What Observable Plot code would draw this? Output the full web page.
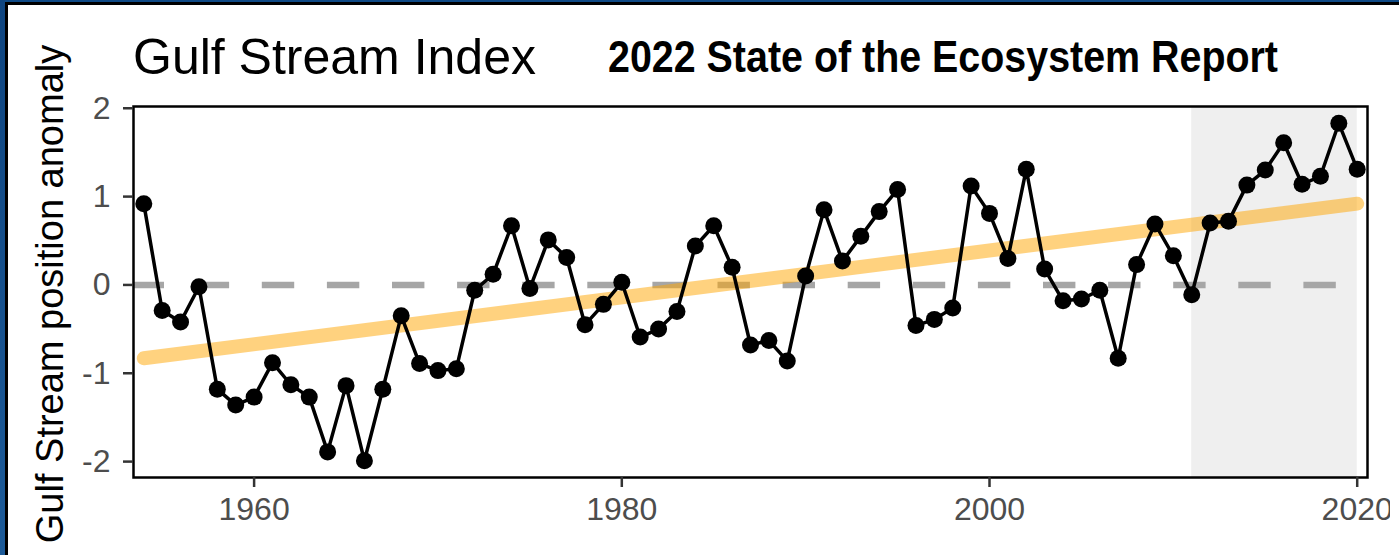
<!DOCTYPE html>
<html>
<head>
<meta charset="utf-8">
<script src="https://cdn.jsdelivr.net/npm/d3@7"></script>
<script src="https://cdn.jsdelivr.net/npm/@observablehq/plot@0.6"></script>
<style>
  html, body { margin: 0; padding: 0; background: white; width: 1399px; height: 555px; overflow: hidden; }
  #page { position: relative; width: 1399px; height: 555px; background: white; }
  .band { position: absolute; }
  #title { position: absolute; left: 133px; top: 31.7px; font: 50px "Liberation Sans", Arial, sans-serif; line-height: 50px; color: #000; white-space: nowrap; }
  #subtitle { position: absolute; left: 608px; top: 34.8px; font: bold 44px "Liberation Sans Narrow", "Arial Narrow", "Liberation Sans", Arial, sans-serif; line-height: 44px; color: #000; white-space: nowrap; transform-origin: 0 0; }
  #chart { position: absolute; left: 0; top: 90px; width: 1399px; height: 465px; }
  #chart svg { overflow: visible; clip-path: polygon(-300px -200px, 1390px -200px, 1390px 700px, -300px 700px); }
</style>
</head>
<body>
<div id="page">
  <div id="title"></div>
  <div id="subtitle"></div>
  <div id="chart"></div>
  <div class="band" style="left:0;top:0;width:1399px;height:2px;background:#0f4a86"></div>
  <div class="band" style="left:5px;top:2px;width:1394px;height:3px;background:#000"></div>
  <div class="band" style="left:0;top:0;width:5px;height:555px;background:linear-gradient(#0f4580,#1d5b99)"></div>
  <div class="band" style="left:5px;top:2px;width:3px;height:553px;background:#000"></div>
</div>
<script>
const titleText = "Gulf Stream Index";
const subtitleText = "2022 State of the Ecosystem Report";
const yLabel = "Gulf Stream position anomaly";

const years = [1954,1955,1956,1957,1958,1959,1960,1961,1962,1963,1964,1965,1966,1967,1968,1969,1970,1971,1972,1973,1974,1975,1976,1977,1978,1979,1980,1981,1982,1983,1984,1985,1986,1987,1988,1989,1990,1991,1992,1993,1994,1995,1996,1997,1998,1999,2000,2001,2002,2003,2004,2005,2006,2007,2008,2009,2010,2011,2012,2013,2014,2015,2016,2017,2018,2019,2020];
const values = [0.92,-0.29,-0.42,-0.02,-1.18,-1.36,-1.27,-0.88,-1.13,-1.27,-1.89,-1.14,-1.99,-1.18,-0.35,-0.89,-0.97,-0.95,-0.06,0.12,0.67,-0.04,0.51,0.31,-0.45,-0.22,0.03,-0.59,-0.50,-0.30,0.44,0.67,0.20,-0.68,-0.63,-0.86,0.10,0.85,0.27,0.55,0.83,1.08,-0.46,-0.39,-0.26,1.12,0.81,0.30,1.31,0.18,-0.18,-0.16,-0.06,-0.83,0.23,0.69,0.33,-0.11,0.70,0.72,1.13,1.30,1.61,1.14,1.23,1.83,1.31];

const trendYears = [1954, 2020];
const trendValues = [-0.83, 0.92];

const shadeStart = [2011];
const shadeEnd = [2020];

const xTicks = [1960, 1980, 2000, 2020];
const yTicks = [-2, -1, 0, 1, 2];

const data = years.map((year, i) => ({year, value: values[i]}));
const trend = trendYears.map((year, i) => ({year, value: trendValues[i]}));
const shade = shadeStart.map((s, i) => ({x1: s, x2: shadeEnd[i]}));

document.getElementById("title").textContent = titleText;
const sub = document.getElementById("subtitle");
sub.textContent = subtitleText;

const chart = Plot.plot({
  width: 1399,
  height: 465,
  marginTop: 16,
  marginBottom: 78,
  marginLeft: 133,
  marginRight: 32,
  x: {domain: [1953.44, 2020.56]},
  y: {domain: [-2.18, 2.02]},
  style: {fontFamily: "'Liberation Sans', Arial, sans-serif", background: "transparent", overflow: "visible"},
  marks: [
    Plot.rect(shade, {x1: "x1", x2: "x2", fill: "#efefef"}),
    Plot.ruleY([0], {stroke: "#a6a6a6", strokeWidth: 6.5, strokeDasharray: "32.4,32.7", strokeDashoffset: 1.4}),
    Plot.line(trend, {x: "year", y: "value", stroke: "orange", strokeOpacity: 0.5, strokeWidth: 14, strokeLinecap: "round"}),
    Plot.line(data, {x: "year", y: "value", stroke: "black", strokeWidth: 3.5}),
    Plot.dot(data, {x: "year", y: "value", r: 8.5, fill: "black"}),
    Plot.frame({stroke: "black", strokeWidth: 2.5}),
    Plot.axisX({ticks: xTicks, tickFormat: d => String(d), tickSize: 10, tickPadding: 10, stroke: "#333", strokeWidth: 2.5, fill: "#4d4d4d", fontSize: 32, label: null}),
    Plot.axisY({ticks: yTicks, tickFormat: d => String(d), tickSize: 10, tickPadding: 13, stroke: "#333", strokeWidth: 2.5, fill: "#4d4d4d", fontSize: 32, label: null}),
    Plot.text([yLabel], {frameAnchor: "left", textAnchor: "middle", text: d => d, rotate: -90, dx: -83, dy: 2, fontSize: 38, fill: "black"})
  ]
});
document.getElementById("chart").appendChild(chart);

const w = sub.getBoundingClientRect().width;
if (w > 0) sub.style.transform = `scaleX(${670 / w})`;
</script>
</body>
</html>
